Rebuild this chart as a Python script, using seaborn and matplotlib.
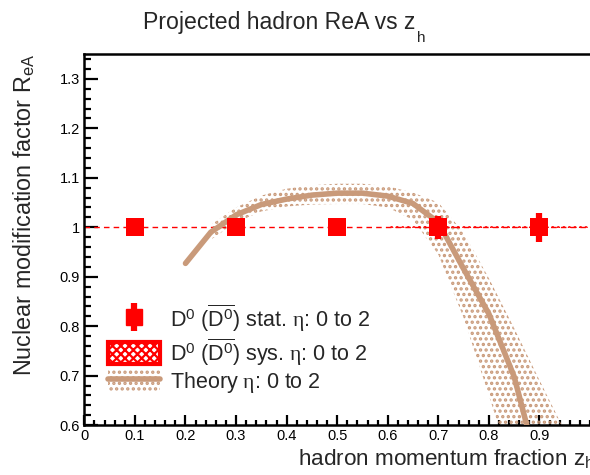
import matplotlib
matplotlib.use("Agg")
import matplotlib.pyplot as plt
import seaborn as sns
import numpy as np
import pandas as pd
from matplotlib.lines import Line2D
from matplotlib.patches import Patch, Rectangle
from matplotlib.ticker import MultipleLocator

# ---- data ----
z_points = [0.1, 0.3, 0.5, 0.7, 0.9]
rea_points = [1.0, 1.0, 1.0, 1.0, 1.0]
stat_err = [0.006, 0.008, 0.012, 0.023, 0.029]
sys_err = [0.0, 0.0, 0.0, 0.002, 0.002]
sys_halfwidth = 0.1

theory_z = [0.20, 0.25, 0.30, 0.35, 0.40, 0.45, 0.50, 0.55, 0.60, 0.65,
            0.70, 0.75, 0.80, 0.85, 0.875, 0.90]
theory_rea = [0.927, 0.990, 1.025, 1.046, 1.057, 1.065, 1.069, 1.069, 1.063,
              1.048, 1.010, 0.916, 0.825, 0.698, 0.600, 0.490]

band_z = [0.25, 0.30, 0.35, 0.40, 0.45, 0.50, 0.55, 0.60, 0.65, 0.70,
          0.75, 0.80, 0.85, 0.90, 0.95]
band_hi = [1.005, 1.040, 1.064, 1.078, 1.085, 1.088, 1.088, 1.083, 1.070,
           1.050, 0.989, 0.897, 0.796, 0.691, 0.588]
band_lo = [0.975, 1.010, 1.032, 1.042, 1.046, 1.047, 1.047, 1.040, 1.015,
           0.945, 0.817, 0.660, 0.500, 0.400, 0.300]

x_ticks = [0, 0.1, 0.2, 0.3, 0.4, 0.5, 0.6, 0.7, 0.8, 0.9]
y_ticks = [0.6, 0.7, 0.8, 0.9, 1.0, 1.1, 1.2, 1.3]

title_main = "Projected hadron ReA vs z"
title_sub = "h"
xlabel = "hadron momentum fraction z$_\\mathregular{h}$"
ylabel = "Nuclear modification factor R$_\\mathregular{eA}$"
leg_stat = "D$^\\mathregular{0}$ ($\\overline{\\mathregular{D}^\\mathregular{0}}$) stat. $\\eta$: 0 to 2"
leg_sys = "D$^\\mathregular{0}$ ($\\overline{\\mathregular{D}^\\mathregular{0}}$) sys. $\\eta$: 0 to 2"
leg_th = "Theory $\\eta$: 0 to 2"

# ---- style ----
sns.set_theme(style="ticks")
plt.rcParams['font.family'] = ['Liberation Sans', 'DejaVu Sans']
plt.rcParams['mathtext.fontset'] = 'custom'
plt.rcParams['mathtext.rm'] = 'Liberation Sans'
plt.rcParams['mathtext.it'] = 'Liberation Serif'
plt.rcParams['hatch.linewidth'] = 1.6

RED = '#ff0000'
TAN = '#c99a7a'

fig = plt.figure(figsize=(5.9, 4.75), dpi=100)
ax = fig.add_axes([0.143, 0.105, 0.857, 0.781])

# dashed reference line
ax.axhline(1.0, color=RED, ls=(0, (4, 3)), lw=1.0, zorder=2)

# theory band (dotted)
ax.fill_between(band_z, band_lo, band_hi, facecolor='none', edgecolor=TAN,
                hatch='...', linewidth=0, zorder=1)

# theory line
df_th = pd.DataFrame({'z': theory_z, 'rea': theory_rea})
sns.lineplot(data=df_th, x='z', y='rea', ax=ax, color=TAN, lw=4.0,
             sort=False, zorder=3, legend=False)

# sys boxes
for z, r, s in zip(z_points, rea_points, sys_err):
    if s > 0:
        ax.add_patch(Rectangle((z - sys_halfwidth, r - s), 2 * sys_halfwidth, 2 * s,
                               facecolor='none', edgecolor=RED, hatch='...',
                               lw=0, zorder=4))

# stat errors + markers
ax.errorbar(z_points, rea_points, yerr=stat_err, fmt='none', ecolor=RED,
            elinewidth=4.5, capsize=0, zorder=5)
df_pts = pd.DataFrame({'z': z_points, 'rea': rea_points})
sns.scatterplot(data=df_pts, x='z', y='rea', ax=ax, marker='s', s=150,
                color=RED, edgecolor=RED, linewidth=0, zorder=6, legend=False)

ax.set_xlim(0, 1.0)
ax.set_ylim(0.6, 1.35)
ax.set_xticks(x_ticks)
ax.set_xticklabels(['0' if t == 0 else f"{t:.1f}" for t in x_ticks])
ax.set_yticks(y_ticks)
ax.set_yticklabels(['1' if t == 1.0 else f"{t:.1f}" for t in y_ticks])
ax.xaxis.set_minor_locator(MultipleLocator(0.02))
ax.yaxis.set_minor_locator(MultipleLocator(0.02))
ax.tick_params(axis='both', which='both', direction='in', width=1.6,
               colors='black', labelsize=10.5)
ax.tick_params(axis='x', which='major', length=7.5, pad=3)
ax.tick_params(axis='x', which='minor', length=3.8)
ax.tick_params(axis='y', which='major', length=10, pad=3)
ax.tick_params(axis='y', which='minor', length=5)
for side in ['left', 'bottom', 'top']:
    ax.spines[side].set_linewidth(1.8)
    ax.spines[side].set_color('black')
ax.spines['right'].set_visible(False)

ax.set_xlabel('')
ax.set_ylabel('')
fig.text(1.008, 0.022, xlabel, ha='right', va='baseline', fontsize=16.2)
fig.text(0.042, 0.886, ylabel, ha='center', va='top', rotation=90, fontsize=16.8)
fig.text(0.704, 0.938, title_main, ha='right', va='baseline', fontsize=16.6)
fig.text(0.706, 0.912, title_sub, ha='left', va='baseline', fontsize=11)

# legend
h_stat = (Line2D([], [], color=RED, lw=0, marker='|', markersize=20, markeredgewidth=4.5),
          Line2D([], [], color=RED, marker='s', markersize=11, lw=0))
h_sys = Patch(facecolor='white', edgecolor=RED, hatch='xxxx', lw=3)
h_th = (Patch(facecolor='none', edgecolor=TAN, hatch='...', lw=0),
        Line2D([], [], color=TAN, lw=4.0))
leg = ax.legend([h_stat, h_sys, h_th], [leg_stat, leg_sys, leg_th],
                loc='lower left', bbox_to_anchor=(0.03, 0.058), frameon=False,
                fontsize=15.5, handlelength=2.4, handleheight=1.2,
                handletextpad=0.45, labelspacing=0.1, borderaxespad=0)

fig.savefig('out.png', dpi=100)
